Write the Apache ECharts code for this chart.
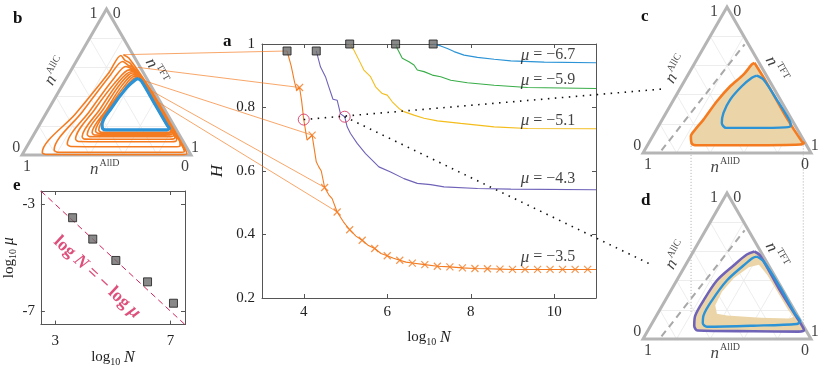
<!DOCTYPE html>
<html>
<head>
<meta charset="utf-8">
<script src="https://cdn.jsdelivr.net/npm/echarts@6.0.0/dist/echarts.min.js"></script>
<style>
html, body { margin: 0; background: #fff; }
#chart { width: 831px; height: 368px; }
</style>
</head>
<body>
<div id="chart"></div>
<script>
// ---------- panel a : H vs log10 N ----------
const curveMu67 = [[7.1,1.0],[7.28,0.994],[7.44,0.986],[7.6,0.976],[7.84,0.965],[8.16,0.958],[8.56,0.952],[8.96,0.947],[9.76,0.943],[11,0.941]];
const curveMu59 = [[6.2,1.0],[6.24,0.986],[6.36,0.955],[6.52,0.944],[6.64,0.934],[6.72,0.918],[6.88,0.913],[7.08,0.902],[7.28,0.897],[7.52,0.886],[7.92,0.878],[8.56,0.87],[9.36,0.863],[11,0.86]];
const curveMu51 = [[5.1,1.0],[5.2,0.981],[5.32,0.95],[5.44,0.918],[5.6,0.897],[5.72,0.865],[5.88,0.844],[6.0,0.839],[6.12,0.818],[6.28,0.797],[6.4,0.787],[6.64,0.776],[6.88,0.766],[7.2,0.758],[7.76,0.75],[8.56,0.739],[9.36,0.734],[11,0.733]];
const curveMu43 = [[4.3,0.978],[4.4,0.928],[4.52,0.897],[4.6,0.865],[4.7,0.826],[4.8,0.823],[4.88,0.78],[4.98,0.771],[5.04,0.739],[5.12,0.718],[5.28,0.687],[5.48,0.655],[5.68,0.629],[5.8,0.613],[6.08,0.597],[6.4,0.576],[6.72,0.561],[7.04,0.557],[7.36,0.55],[8.16,0.545],[8.96,0.543],[11,0.541]];
const curveMu35 = [[3.6,0.978],[3.7,0.93],[3.78,0.88],[3.83,0.855],[3.9,0.863],[3.95,0.82],[4.0,0.762],[4.08,0.697],[4.2,0.713],[4.3,0.629],[4.36,0.613],[4.42,0.6],[4.5,0.548],[4.6,0.525],[4.68,0.513],[4.8,0.471],[4.95,0.44],[5.1,0.415],[5.25,0.395],[5.4,0.382],[5.55,0.365],[5.7,0.356],[5.85,0.34],[6.0,0.333],[6.15,0.325],[6.3,0.319],[6.45,0.313],[6.6,0.31],[6.9,0.305],[7.2,0.3],[7.5,0.298],[7.8,0.295],[8.1,0.293],[8.4,0.292],[8.7,0.291],[9.0,0.29],[11,0.29]];
const xMarkN = [3.9,4.2,4.5,4.8,5.1,5.4,5.7,6.0,6.3,6.6,6.9,7.2,7.5,7.8,8.1,8.4,8.7,9.0,9.3,9.6,9.9,10.2,10.5,10.8];
const xMarkH = [0.863,0.713,0.548,0.471,0.415,0.382,0.356,0.333,0.319,0.31,0.305,0.3,0.298,0.295,0.293,0.292,0.291,0.29,0.29,0.29,0.29,0.29,0.29,0.29];
const muText = ['\u22123.5', '\u22124.3', '\u22125.1', '\u22125.9', '\u22126.7'];
const muLabelN = [9.85, 9.85, 9.85, 9.85, 9.85];
const muLabelH = [0.329, 0.576, 0.758, 0.886, 0.965];
const critN = [3.6, 4.3, 5.1, 6.2, 7.1];
const critH = [0.978, 0.978, 1, 1, 1];
const critLogMu = [-3.5, -4.3, -5.1, -5.9, -6.7];
const circleN = [4.0, 4.98];
const circleH = [0.762, 0.771];

// ---------- ternary panels (triangle coordinates, base 0..1, apex at 0.866) ----------
const triFrame = [[0,0],[1,0],[0.5,0.866]];
const triGridFrac = [0.2, 0.4, 0.6, 0.8];
const triTickPos = [[0.423,0.837],[0.561,0.837],[-0.034,0.04],[1.023,0.04],[0.03,-0.069],[0.965,-0.069]];
const triTickText = ['1','0','0','1','1','0'];
const triNamePos = [[0.195,0.498],[0.797,0.5],[0.49,-0.079]];
const triNameText = ['AllC','TFT','AllD'];
const triNameRot = [60, -60, 0];

// panel b: spiralling trajectory, loop by loop, and its limit cycle
const loop1 = [[0.6,0.595],[0.632,0.575],[0.76,0.39],[0.86,0.22],[0.96,0.045],[0.975,0.008],[0.94,0.002],[0.5,0.002],[0.14,0.003],[0.12,0.015],[0.317,0.245],[0.515,0.49],[0.585,0.59]];
const loop2 = [[0.61,0.561],[0.64,0.545],[0.768,0.37],[0.866,0.2],[0.955,0.04],[0.96,0.02],[0.93,0.016],[0.5,0.016],[0.21,0.017],[0.19,0.03],[0.36,0.26],[0.52,0.47],[0.595,0.555]];
const loop3 = [[0.63,0.531],[0.655,0.52],[0.77,0.35],[0.87,0.18],[0.935,0.07],[0.935,0.052],[0.9,0.049],[0.5,0.049],[0.29,0.05],[0.268,0.065],[0.4,0.26],[0.54,0.45],[0.615,0.525]];
const loop4 = [[0.65,0.512],[0.672,0.5],[0.78,0.33],[0.87,0.17],[0.915,0.095],[0.91,0.082],[0.88,0.079],[0.5,0.079],[0.335,0.08],[0.317,0.095],[0.43,0.27],[0.56,0.44],[0.635,0.505]];
const loop5 = [[0.66,0.5],[0.68,0.488],[0.78,0.32],[0.87,0.165],[0.905,0.108],[0.9,0.096],[0.87,0.093],[0.5,0.093],[0.372,0.094],[0.356,0.108],[0.46,0.27],[0.57,0.43],[0.645,0.494]];
const loop6 = [[0.669,0.492],[0.688,0.48],[0.785,0.31],[0.87,0.16],[0.898,0.12],[0.893,0.111],[0.86,0.108],[0.5,0.108],[0.4,0.109],[0.386,0.123],[0.48,0.27],[0.58,0.42],[0.655,0.487]];
const loop7 = [[0.675,0.482],[0.693,0.47],[0.785,0.31],[0.865,0.165],[0.89,0.13],[0.885,0.121],[0.85,0.118],[0.5,0.118],[0.43,0.119],[0.415,0.133],[0.5,0.27],[0.59,0.41],[0.661,0.477]];
const loop8 = [[0.679,0.472],[0.696,0.46],[0.785,0.305],[0.862,0.17],[0.884,0.138],[0.878,0.13],[0.85,0.128],[0.5,0.128],[0.45,0.129],[0.435,0.143],[0.51,0.27],[0.6,0.4],[0.666,0.467]];
const loop9 = [[0.684,0.463],[0.7,0.452],[0.785,0.3],[0.86,0.17],[0.88,0.143],[0.874,0.136],[0.85,0.134],[0.5,0.134],[0.47,0.135],[0.454,0.149],[0.52,0.27],[0.61,0.395],[0.672,0.458]];
const cycleB = [[0.689,0.453],[0.708,0.437],[0.79,0.295],[0.86,0.175],[0.872,0.158],[0.85,0.149],[0.5,0.149],[0.478,0.156],[0.474,0.18],[0.53,0.28],[0.62,0.4],[0.672,0.447],[0.689,0.453]];
const bLinkPts = [[0.6,0.595],[0.685,0.52],[0.725,0.44],[0.758,0.385],[0.787,0.325]];

// panel c
const outerC = [[0.663,0.535],[0.737,0.416],[0.855,0.208],[0.945,0.069],[0.958,0.059],[0.935,0.05],[0.657,0.046],[0.321,0.046],[0.291,0.055],[0.285,0.099],[0.311,0.139],[0.36,0.198],[0.44,0.307],[0.519,0.396],[0.598,0.465],[0.648,0.525]];
const cycleC = [[0.677,0.459],[0.717,0.436],[0.796,0.317],[0.875,0.188],[0.879,0.162],[0.846,0.152],[0.657,0.149],[0.495,0.149],[0.469,0.178],[0.479,0.238],[0.519,0.317],[0.588,0.396],[0.648,0.446]];
// panel d
const outerD = [[0.663,0.519],[0.697,0.495],[0.816,0.287],[0.915,0.129],[0.954,0.065],[0.958,0.05],[0.925,0.044],[0.657,0.046],[0.325,0.05],[0.305,0.079],[0.311,0.139],[0.36,0.228],[0.44,0.347],[0.539,0.436],[0.618,0.501]];
const innerD = [[0.69,0.44],[0.74,0.38],[0.8,0.28],[0.86,0.18],[0.895,0.13],[0.87,0.122],[0.7,0.126],[0.5,0.14],[0.44,0.15],[0.43,0.2],[0.47,0.28],[0.54,0.36],[0.63,0.425]];
const cycleD = [[0.677,0.489],[0.717,0.461],[0.816,0.307],[0.905,0.149],[0.935,0.105],[0.915,0.089],[0.657,0.079],[0.38,0.073],[0.356,0.093],[0.36,0.139],[0.41,0.228],[0.499,0.347],[0.598,0.436],[0.653,0.481]];
const dashCD = [[0.11,0.015],[0.605,0.645]];
const cLinkPt = [0.12, 0.38];
const dLinkPt = [0.06, 0.436];
const cdGuideTop = [[0.286,0.06],[0.954,0.045]];
const cdGuideBot = [[0.286,0.16],[0.954,0.09]];

// panel e label anchor
const eLabelPos = [4.45, -5.73];

const ORANGE = '#f47b20', BLUE = '#2b93d6', GREEN = '#38ad48', YELLOW = '#f4bd1c', PURPLE = '#6f63b8';
const CRIMSON = '#d3245a', TAN = '#ebd5a8', TRI = '#b5b5b5', AX = '#555';
const FONT = 'Liberation Serif';

const zip = (a, b) => a.map((v, i) => [v, b[i]]);
const closed = pts => pts.concat([pts[0]]);

function triGridSegs() {
  const s = [];
  triGridFrac.forEach(f => {
    s.push({ coords: [[f / 2, f * 0.866], [1 - f / 2, f * 0.866]] });
    s.push({ coords: [[f, 0], [f + (1 - f) / 2, (1 - f) * 0.866]] });
    s.push({ coords: [[1 - f, 0], [(1 - f) / 2, (1 - f) * 0.866]] });
  });
  return s;
}

function polySeries(ai, pts, style, z) {
  return {
    type: 'custom', xAxisIndex: ai, yAxisIndex: ai, data: pts, z: z, silent: true,
    renderItem: (params, api) => params.dataIndex === 0
      ? { type: 'polygon', shape: { points: pts.map(p => api.coord(p)) }, style: style }
      : null
  };
}

function lineSeries(ai, data, color, width, z, extra) {
  return Object.assign({
    type: 'line', xAxisIndex: ai, yAxisIndex: ai, data: data, symbol: 'none', z: z || 3,
    lineStyle: { color: color, width: width }, silent: true, animation: false
  }, extra || {});
}

function triDecor(ai) {
  const labels = triTickPos.map((p, i) => ({ value: p, name: triTickText[i] }));
  triNamePos.forEach((p, i) => labels.push({
    value: p, name: '{n|n}{s|' + triNameText[i] + '}', label: { rotate: triNameRot[i] }
  }));
  return [
    { type: 'lines', coordinateSystem: 'cartesian2d', xAxisIndex: ai, yAxisIndex: ai, z: 1, silent: true,
      data: triGridSegs(), lineStyle: { color: '#e8e8e8', width: 0.8, opacity: 1 } },
    polySeries(ai, triFrame, { fill: 'none', stroke: TRI, lineWidth: 3, lineJoin: 'miter' }, 2),
    { type: 'scatter', xAxisIndex: ai, yAxisIndex: ai, data: labels, symbolSize: 1, clip: false, z: 6,
      itemStyle: { color: 'transparent' }, silent: true,
      label: { show: true, position: 'inside', formatter: '{b}', color: '#111', fontFamily: FONT, fontSize: 16,
        rich: { n: { fontFamily: FONT, fontStyle: 'italic', fontSize: 17, color: '#111', verticalAlign: 'bottom' },
                s: { fontFamily: FONT, fontSize: 10, color: '#111', verticalAlign: 'bottom', padding: [0, 0, 9, 1] } } } }
  ];
}

const xCross = 'path://M0,0L10,10M10,0L0,10';
const axisText = { color: '#222', fontFamily: FONT, fontSize: 15 };
const logName = sym => ({
  name: 'log{s|10} {i|' + sym + '}', nameLocation: 'middle',
  nameTextStyle: Object.assign({ rich: {
    s: { fontFamily: FONT, fontSize: 10, color: '#222', padding: [9, 0, 0, 0] },
    i: { fontFamily: FONT, fontSize: 16, fontStyle: 'italic', color: '#222' } } }, axisText)
});

const option = {
  animation: false,
  backgroundColor: '#fff',
  title: [
    { text: 'a', left: 218, top: 28 }, { text: 'b', left: 8, top: 5 }, { text: 'c', left: 636, top: 3 },
    { text: 'd', left: 636, top: 187 }, { text: 'e', left: 8, top: 172 }
  ].map(t => Object.assign(t, { textStyle: { fontFamily: FONT, fontWeight: 'bold', fontSize: 17, color: '#111' } })),
  grid: [
    { left: 262, top: 44, width: 334, height: 254 },
    { left: 22, top: 9, width: 169, height: 146 },
    { left: 643, top: 7, width: 168, height: 146 },
    { left: 643, top: 193, width: 168, height: 146 },
    { left: 27, top: 191, width: 158, height: 147 }
  ],
  xAxis: [
    Object.assign({ gridIndex: 0, type: 'value', min: 3, max: 11, position: 'bottom',
      axisLine: { lineStyle: { color: AX, width: 1 } },
      axisTick: { inside: true, length: 4, customValues: [4, 6, 8, 10], lineStyle: { color: AX } },
      axisLabel: Object.assign({ customValues: [4, 6, 8, 10], margin: 7 }, axisText),
      splitLine: { show: false }, nameGap: 30 }, logName('N')),
    { gridIndex: 0, type: 'value', min: 3, max: 11, position: 'top',
      axisLine: { lineStyle: { color: AX, width: 1 } },
      axisTick: { inside: true, length: 4, customValues: [4, 6, 8, 10], lineStyle: { color: AX } },
      axisLabel: { show: false }, splitLine: { show: false } },
    { gridIndex: 1, type: 'value', min: 0, max: 1, show: false },
    { gridIndex: 2, type: 'value', min: 0, max: 1, show: false },
    { gridIndex: 3, type: 'value', min: 0, max: 1, show: false },
    Object.assign({ gridIndex: 4, type: 'value', min: 2.5, max: 7.5, position: 'bottom',
      axisLine: { lineStyle: { color: AX, width: 1 } },
      axisTick: { inside: true, length: 4, customValues: [3, 7], lineStyle: { color: AX } },
      axisLabel: Object.assign({ customValues: [3, 7], margin: 9 }, axisText),
      splitLine: { show: false }, nameGap: 15 }, logName('N')),
    { gridIndex: 4, type: 'value', min: 2.5, max: 7.5, position: 'top',
      axisLine: { lineStyle: { color: AX, width: 1 } },
      axisTick: { inside: true, length: 4, customValues: [3, 7], lineStyle: { color: AX } },
      axisLabel: { show: false }, splitLine: { show: false } }
  ],
  yAxis: [
    { gridIndex: 0, type: 'value', min: 0.2, max: 1, interval: 0.2, position: 'left',
      axisLine: { show: true, lineStyle: { color: AX, width: 1 } },
      axisTick: { show: true, inside: true, length: 4, lineStyle: { color: AX } },
      axisLabel: Object.assign({ margin: 7, formatter: v => (v === 1 ? '1' : String(+v.toFixed(1))) }, axisText),
      splitLine: { show: false },
      name: 'H', nameLocation: 'middle', nameGap: 36,
      nameTextStyle: { fontFamily: FONT, fontSize: 17, fontStyle: 'italic', color: '#222' } },
    { gridIndex: 0, type: 'value', min: 0.2, max: 1, interval: 0.2, position: 'right',
      axisLine: { show: true, lineStyle: { color: AX, width: 1 } },
      axisTick: { show: true, inside: true, length: 4, lineStyle: { color: AX } },
      axisLabel: { show: false }, splitLine: { show: false } },
    { gridIndex: 1, type: 'value', min: 0, max: 0.866, show: false },
    { gridIndex: 2, type: 'value', min: 0, max: 0.866, show: false },
    { gridIndex: 3, type: 'value', min: 0, max: 0.866, show: false },
    Object.assign({ gridIndex: 4, type: 'value', min: -7.5, max: -2.5, position: 'left',
      axisLine: { show: true, lineStyle: { color: AX, width: 1 } },
      axisTick: { show: true, inside: true, length: 4, customValues: [-7, -3], lineStyle: { color: AX } },
      axisLabel: Object.assign({ customValues: [-7, -3], margin: 6 }, axisText),
      splitLine: { show: false }, nameGap: 14 }, logName('\u03bc')),
    { gridIndex: 4, type: 'value', min: -7.5, max: -2.5, position: 'right',
      axisLine: { show: true, lineStyle: { color: AX, width: 1 } },
      axisTick: { show: true, inside: true, length: 4, customValues: [-7, -3], lineStyle: { color: AX } },
      axisLabel: { show: false }, splitLine: { show: false } }
  ],
  series: [
    // ternary backgrounds
    ...triDecor(2), ...triDecor(3), ...triDecor(4),
    // panel b
    lineSeries(2, [].concat(loop1, loop2, loop3, loop4, loop5, loop6, loop7, loop8, loop9, cycleB), ORANGE, 1.6, 4, { smooth: 0.3 }),
    lineSeries(2, cycleB, BLUE, 3.2, 5, { smooth: 0.35 }),
    // panel c
    polySeries(3, outerC, { fill: TAN, stroke: 'none' }, 3),
    lineSeries(3, dashCD, '#a8a8a8', 2, 3, { lineStyle: { color: '#a8a8a8', width: 2, type: [7, 5] } }),
    lineSeries(3, closed(outerC), ORANGE, 2.6, 4, { smooth: 0.3 }),
    lineSeries(3, closed(cycleC), BLUE, 2.4, 5, { smooth: 0.3 }),
    // panel d
    polySeries(4, outerD.concat([outerD[0]], innerD.slice().reverse(), [innerD[innerD.length - 1]]), { fill: TAN, stroke: 'none' }, 3),
    lineSeries(4, dashCD, '#a8a8a8', 2, 3, { lineStyle: { color: '#a8a8a8', width: 2, type: [7, 5] } }),
    lineSeries(4, closed(outerD), PURPLE, 2.6, 4, { smooth: 0.3 }),
    lineSeries(4, closed(cycleD), BLUE, 2.4, 5, { smooth: 0.3 }),
    // panel a
    lineSeries(0, curveMu67, BLUE, 1.1, 3),
    lineSeries(0, curveMu59, GREEN, 1.1, 3),
    lineSeries(0, curveMu51, YELLOW, 1.1, 3),
    lineSeries(0, curveMu43, PURPLE, 1.1, 3),
    lineSeries(0, curveMu35, ORANGE, 1.1, 3),
    { type: 'scatter', xAxisIndex: 0, yAxisIndex: 0, data: zip(xMarkN, xMarkH), symbol: xCross, symbolSize: 7, z: 4,
      itemStyle: { color: 'none', borderColor: ORANGE, borderWidth: 1.2 }, silent: true },
    { type: 'scatter', xAxisIndex: 0, yAxisIndex: 0, data: zip(critN, critH), symbol: 'rect', symbolSize: 8, z: 6, clip: false,
      itemStyle: { color: '#6b6b6b', borderColor: '#1a1a1a', borderWidth: 1 }, silent: true },
    { type: 'scatter', xAxisIndex: 0, yAxisIndex: 0, data: zip(circleN, circleH), symbol: 'circle', symbolSize: 11, z: 6,
      itemStyle: { color: 'none', borderColor: CRIMSON, borderWidth: 1 }, silent: true },
    { type: 'scatter', xAxisIndex: 0, yAxisIndex: 0, symbolSize: 1, z: 7, silent: true,
      data: muLabelN.map((n, i) => ({ value: [n, muLabelH[i]], name: muText[i] })),
      itemStyle: { color: 'transparent' },
      label: { show: true, position: 'inside', formatter: '{i|\u03bc} = {b}', fontFamily: FONT, fontSize: 16, color: '#111',
        rich: { i: { fontFamily: FONT, fontSize: 17, fontStyle: 'italic', color: '#111' } } } },
    // panel e
    lineSeries(5, [[2.5, -2.5], [7.5, -7.5]], CRIMSON, 1, 3, { lineStyle: { color: CRIMSON, width: 1, type: [6, 4] } }),
    { type: 'scatter', xAxisIndex: 5, yAxisIndex: 5, data: zip(critN, critLogMu), symbol: 'rect', symbolSize: 8, z: 6,
      itemStyle: { color: '#6b6b6b', borderColor: '#1a1a1a', borderWidth: 1 }, silent: true },
    { type: 'scatter', xAxisIndex: 5, yAxisIndex: 5, data: [eLabelPos], symbolSize: 1, z: 7, silent: true,
      itemStyle: { color: 'transparent' },
      label: { show: true, position: 'inside', rotate: -43,
        formatter: '{b|log }{i|N}{b| = \u2212 log }{i|\u03bc}',
        rich: { b: { fontFamily: FONT, fontSize: 18, fontWeight: 'bold', color: CRIMSON },
                i: { fontFamily: FONT, fontSize: 18, fontWeight: 'bold', fontStyle: 'italic', color: CRIMSON } } } }
  ]
};

const chart = echarts.init(document.getElementById('chart'), null, { renderer: 'canvas' });
chart.setOption(option);

// connectors between panels, placed through each grid's own scale
const toPx = (ai, p) => chart.convertToPixel({ xAxisIndex: ai, yAxisIndex: ai }, p);
const aTargets = [[critN[0], critH[0]]].concat(zip(xMarkN, xMarkH).slice(0, 4));
const graphics = [];
bLinkPts.forEach((p, i) => {
  const s = toPx(2, p), e = toPx(0, aTargets[i]);
  graphics.push({ type: 'line', z: 2, silent: true, shape: { x1: s[0], y1: s[1], x2: e[0], y2: e[1] },
    style: { stroke: ORANGE, lineWidth: 0.8, opacity: 0.85 } });
});
[[zip(circleN, circleH)[0], 3, cLinkPt], [zip(circleN, circleH)[1], 4, dLinkPt]].forEach(([c, ai, t]) => {
  const s = toPx(0, c), e = toPx(ai, t);
  graphics.push({ type: 'line', z: 9, silent: true, shape: { x1: s[0], y1: s[1], x2: e[0], y2: e[1] },
    style: { stroke: '#111', lineWidth: 1.6, lineDash: [1.5, 5.5] } });
});
cdGuideTop.forEach((p, i) => {
  const s = toPx(3, p), e = toPx(4, cdGuideBot[i]);
  graphics.push({ type: 'line', z: 1, silent: true, shape: { x1: s[0], y1: s[1], x2: e[0], y2: e[1] },
    style: { stroke: '#999', lineWidth: 0.8, lineDash: [1, 2] } });
});
chart.setOption({ graphic: graphics });
</script>
</body>
</html>
